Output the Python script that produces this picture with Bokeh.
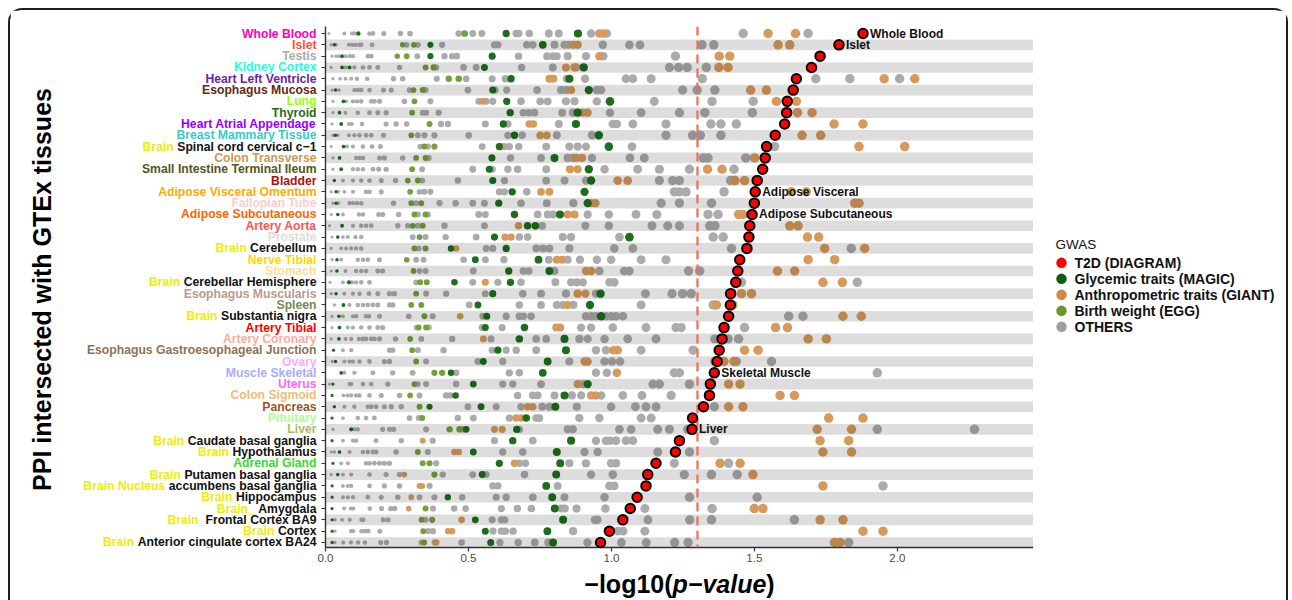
import math
from bokeh.plotting import figure
from bokeh.layouts import row, column
from bokeh.models import (ColumnDataSource, BoxAnnotation, Span, FixedTicker, NumeralTickFormatter, Range1d)
from bokeh.embed import file_html
from bokeh.resources import INLINE
from bokeh.core.properties import value

# ---------------- data ----------------
tissue_prefix = ["", "", "", "", "", "", "", "", "", "", "Brain ", "", "", "", "", "", "", "", "",
                 "Brain ", "", "", "Brain ", "", "", "Brain ", "", "", "", "", "", "", "", "", "", "",
                 "Brain ", "Brain ", "", "Brain ", "Brain Nucleus ", "Brain ", "Brain_ ", "Brain_", "Brain ", "Brain "]
tissue_name = ["Whole Blood", "Islet", "Testis", "Kidney Cortex", "Heart Left Ventricle", "Esophagus Mucosa",
               "Lung", "Thyroid", "Heart Atrial Appendage", "Breast Mammary Tissue", "Spinal cord cervical c\u22121",
               "Colon Transverse", "Small Intestine Terminal Ileum", "Bladder", "Adipose Visceral Omentum",
               "Fallopian Tube", "Adipose Subcutaneous", "Artery Aorta", "Prostate", "Cerebellum", "Nerve Tibial",
               "Stomach", "Cerebellar Hemisphere", "Esophagus Muscularis", "Spleen", "Substantia nigra",
               "Artery Tibial", "Artery Coronary", "Esophagus Gastroesophageal Junction", "Ovary", "Muscle Skeletal",
               "Uterus", "Colon Sigmoid", "Pancreas", "Pituitary", "Liver", "Caudate basal ganglia", "Hypothalamus",
               "Adrenal Gland", "Putamen basal ganglia", "accumbens basal ganglia", "Hippocampus", "Amygdala",
               "Frontal Cortex BA9", "Cortex", "Anterior cingulate cortex BA24"]
tissue_color = ["#FF00BB", "#FF5030", "#AAAAAA", "#22FFDD", "#6B1FA8", "#5C2E10", "#99FF00", "#1F6B1F",
                "#9900FF", "#33CCCC", "#111111", "#CC9955", "#555522", "#AA1111", "#FFAA00", "#FFCCCC",
                "#FF6600", "#FF5555", "#DDDDDD", "#111111", "#FFD700", "#FFDD99", "#111111", "#BB9988",
                "#778855", "#111111", "#FF0000", "#FFAA99", "#8B7355", "#FFAAFF", "#AAAAFF", "#FF66FF",
                "#EEBB77", "#995522", "#AAFF99", "#AABB66", "#111111", "#111111", "#33DD33", "#111111",
                "#111111", "#111111", "#111111", "#111111", "#111111", "#111111"]
brain_color = "#EEEE00"

t2d = [1.880, 1.796, 1.730, 1.700, 1.647, 1.636, 1.615, 1.613, 1.606, 1.573, 1.543, 1.538, 1.529, 1.510,
       1.503, 1.500, 1.492, 1.484, 1.481, 1.474, 1.449, 1.442, 1.435, 1.417, 1.416, 1.410, 1.394, 1.387,
       1.377, 1.370, 1.360, 1.346, 1.343, 1.322, 1.284, 1.282, 1.238, 1.224, 1.156, 1.127, 1.121, 1.090,
       1.066, 1.040, 0.993, 0.962]

others = [
    [0.012, 0.066, 0.093, 0.101, 0.154, 0.166, 0.204, 0.262, 0.296, 0.466, 0.515, 0.547, 0.667, 0.676, 0.713, 0.781, 0.816, 0.929, 0.984, 1.461, 1.688],
    [0.020, 0.037, 0.082, 0.093, 0.105, 0.119, 0.125, 0.163, 0.284, 0.323, 0.408, 0.591, 0.603, 0.704, 0.725, 0.801, 0.836, 0.851, 0.970, 1.063, 1.100, 1.317, 1.358],
    [0.023, 0.037, 0.047, 0.070, 0.084, 0.096, 0.148, 0.160, 0.321, 0.416, 0.443, 0.459, 0.675, 0.775, 0.795, 0.809, 0.847, 0.911, 0.972, 1.224],
    [0.020, 0.070, 0.101, 0.131, 0.154, 0.183, 0.259, 0.387, 0.483, 0.527, 0.686, 0.795, 0.876, 1.203, 1.235, 1.265, 1.332],
    [0.026, 0.051, 0.070, 0.090, 0.110, 0.146, 0.238, 0.270, 0.389, 0.492, 0.583, 0.629, 0.844, 0.908, 1.051, 1.075, 1.139, 1.318, 1.715, 1.834, 2.008],
    [0.023, 0.047, 0.101, 0.113, 0.125, 0.154, 0.203, 0.230, 0.294, 0.350, 0.498, 0.593, 0.634, 0.740, 0.824, 0.841, 0.949, 0.964, 1.249, 1.300, 1.362],
    [0.026, 0.072, 0.096, 0.110, 0.125, 0.160, 0.171, 0.189, 0.276, 0.367, 0.536, 0.562, 0.585, 0.684, 0.751, 0.777, 0.841, 0.871, 0.949, 1.150, 1.352, 1.496],
    [0.026, 0.070, 0.113, 0.154, 0.183, 0.212, 0.340, 0.352, 0.396, 0.692, 0.711, 0.731, 0.828, 0.865, 0.995, 1.104, 1.238, 1.327, 1.493],
    [0.023, 0.082, 0.092, 0.128, 0.212, 0.247, 0.284, 0.404, 0.428, 0.559, 0.638, 0.816, 1.005, 1.019, 1.075, 1.191, 1.348, 1.383, 1.437],
    [0.026, 0.043, 0.082, 0.101, 0.119, 0.142, 0.160, 0.203, 0.323, 0.346, 0.381, 0.501, 0.638, 0.688, 0.809, 0.932, 1.191, 1.284, 1.311, 1.383],
    [0.020, 0.075, 0.096, 0.131, 0.163, 0.192, 0.332, 0.358, 0.548, 0.626, 0.643, 0.676, 0.772, 0.853, 0.882, 0.911, 1.072, 1.571],
    [0.026, 0.107, 0.119, 0.131, 0.189, 0.206, 0.270, 0.361, 0.647, 0.754, 0.847, 0.865, 0.932, 1.065, 1.115, 1.321, 1.338, 1.470],
    [0.026, 0.096, 0.113, 0.131, 0.166, 0.186, 0.212, 0.338, 0.515, 0.583, 0.638, 0.672, 0.772, 0.976, 1.092, 1.168, 1.273, 1.429],
    [0.061, 0.096, 0.125, 0.154, 0.195, 0.245, 0.338, 0.463, 0.626, 0.772, 0.836, 0.911, 1.168, 1.214, 1.238, 1.417],
    [0.020, 0.045, 0.066, 0.096, 0.142, 0.154, 0.195, 0.329, 0.346, 0.367, 0.608, 0.626, 0.704, 1.220, 1.238, 1.261, 1.394],
    [0.026, 0.045, 0.084, 0.096, 0.110, 0.125, 0.238, 0.317, 0.399, 0.455, 0.515, 0.556, 0.684, 0.774, 0.867, 0.929, 1.174, 1.238, 1.350],
    [0.020, 0.061, 0.117, 0.131, 0.186, 0.200, 0.256, 0.323, 0.358, 0.536, 0.559, 0.742, 0.777, 0.795, 0.917, 0.991, 1.086, 1.159, 1.338, 1.373],
    [0.014, 0.096, 0.125, 0.142, 0.160, 0.253, 0.288, 0.323, 0.416, 0.556, 0.758, 0.909, 0.991, 1.142, 1.197, 1.238, 1.344, 1.362],
    [0.023, 0.061, 0.078, 0.105, 0.125, 0.305, 0.350, 0.420, 0.527, 0.678, 0.707, 0.830, 0.859, 1.028, 1.356, 1.391],
    [0.020, 0.055, 0.072, 0.090, 0.107, 0.125, 0.326, 0.562, 0.585, 0.737, 0.760, 0.783, 0.853, 1.010, 1.075, 1.420, 1.839],
    [0.023, 0.055, 0.113, 0.131, 0.148, 0.189, 0.317, 0.343, 0.483, 0.559, 0.624, 0.781, 0.847, 0.890, 0.949, 0.999, 1.104, 1.191],
    [0.020, 0.070, 0.107, 0.125, 0.142, 0.183, 0.200, 0.329, 0.350, 0.517, 0.692, 0.711, 0.801, 0.958, 1.045, 1.063, 1.270, 1.309],
    [0.016, 0.061, 0.093, 0.107, 0.125, 0.154, 0.317, 0.515, 0.603, 0.684, 0.804, 0.859, 0.879, 0.900, 0.993, 1.010, 1.455, 1.860],
    [0.020, 0.066, 0.096, 0.119, 0.152, 0.183, 0.224, 0.241, 0.352, 0.422, 0.559, 0.690, 0.754, 0.841, 0.946, 1.119, 1.212, 1.249, 1.279],
    [0.031, 0.084, 0.113, 0.131, 0.148, 0.166, 0.183, 0.224, 0.235, 0.503, 0.678, 0.754, 0.809, 0.830, 0.867, 1.104, 1.356],
    [0.023, 0.061, 0.096, 0.107, 0.142, 0.152, 0.189, 0.291, 0.375, 0.550, 0.632, 0.678, 0.692, 0.719, 0.911, 0.929, 0.946, 0.981, 0.999, 1.016, 1.040, 1.620, 1.670],
    [0.023, 0.078, 0.096, 0.125, 0.154, 0.183, 0.200, 0.319, 0.361, 0.548, 0.618, 0.894, 0.929, 1.005, 1.121, 1.226, 1.244, 1.466],
    [0.020, 0.070, 0.090, 0.117, 0.131, 0.142, 0.160, 0.171, 0.189, 0.245, 0.335, 0.443, 0.579, 0.737, 0.772, 0.888, 0.917, 0.976, 1.057, 1.156, 1.362, 1.408, 1.445],
    [0.061, 0.090, 0.224, 0.235, 0.323, 0.413, 0.583, 0.632, 0.667, 0.737, 0.946, 0.981, 1.104, 1.286],
    [0.023, 0.066, 0.084, 0.096, 0.119, 0.154, 0.206, 0.224, 0.352, 0.533, 0.620, 0.853, 0.976, 1.002, 1.030, 1.362, 1.437, 1.560],
    [0.066, 0.101, 0.166, 0.235, 0.305, 0.457, 0.643, 0.678, 0.946, 0.984, 1.220, 1.238, 1.930],
    [0.014, 0.084, 0.090, 0.131, 0.160, 0.218, 0.323, 0.352, 0.457, 0.620, 0.655, 0.754, 0.900, 1.145, 1.168, 1.273],
    [0.063, 0.078, 0.090, 0.107, 0.119, 0.154, 0.195, 0.259, 0.329, 0.422, 0.436, 0.672, 0.725, 0.742, 0.801, 0.862, 0.894, 0.964, 1.040, 1.107, 1.209],
    [0.066, 0.101, 0.148, 0.160, 0.177, 0.206, 0.230, 0.265, 0.498, 0.597, 0.684, 0.758, 0.783, 0.879, 0.999, 1.084, 1.121, 1.156, 1.360],
    [0.061, 0.113, 0.142, 0.171, 0.294, 0.326, 0.463, 0.517, 0.643, 0.737, 0.748, 0.888, 0.958, 1.104, 1.139],
    [0.026, 0.101, 0.113, 0.200, 0.224, 0.238, 0.352, 0.480, 0.678, 0.847, 0.865, 1.028, 1.069, 1.162, 1.203, 1.267, 1.930, 2.270],
    [0.061, 0.096, 0.107, 0.177, 0.265, 0.375, 0.591, 0.725, 0.946, 0.981, 0.995, 1.016, 1.051, 1.075, 1.360],
    [0.020, 0.031, 0.084, 0.131, 0.148, 0.166, 0.177, 0.247, 0.358, 0.620, 0.690, 0.906, 0.952, 1.162, 1.273],
    [0.055, 0.078, 0.142, 0.154, 0.171, 0.189, 0.206, 0.224, 0.387, 0.678, 0.699, 0.853, 0.911, 0.999, 1.016, 1.220, 1.410],
    [0.020, 0.061, 0.090, 0.154, 0.212, 0.259, 0.410, 0.515, 0.562, 0.696, 0.929, 1.005, 1.255, 1.350, 1.440],
    [0.061, 0.078, 0.090, 0.154, 0.206, 0.259, 0.364, 0.585, 0.603, 0.812, 0.993, 1.010, 1.950],
    [0.061, 0.078, 0.096, 0.148, 0.195, 0.253, 0.329, 0.381, 0.478, 0.597, 0.632, 0.725, 0.836, 0.976, 1.273, 1.510],
    [0.065, 0.089, 0.097, 0.155, 0.196, 0.228, 0.242, 0.376, 0.450, 0.490, 0.615, 0.671, 0.720, 0.825, 0.837, 0.878, 0.979, 1.117, 1.352],
    [0.033, 0.058, 0.085, 0.126, 0.132, 0.202, 0.219, 0.350, 0.583, 0.615, 0.627, 0.942, 0.951, 1.128, 1.274, 1.350, 1.640],
    [0.033, 0.089, 0.097, 0.126, 0.138, 0.149, 0.190, 0.359, 0.376, 0.586, 0.615, 0.629, 0.656, 0.866, 1.023, 1.041, 1.117],
    [0.033, 0.062, 0.089, 0.114, 0.138, 0.193, 0.213, 0.336, 0.382, 0.476, 0.610, 0.674, 0.732, 0.779, 0.916, 1.035, 1.122, 1.221, 1.268, 1.830],
]

glycemic = [
    [0.115, 0.632, 0.883], [0.031, 0.367, 0.760], [0.058, 0.367, 0.583], [0.058, 0.084, 0.556, 0.903],
    [0.649, 0.853], [0.035, 0.585, 0.921], [0.063, 0.634, 0.995], [0.049, 0.646, 0.882],
    [0.055, 0.622, 0.876], [0.035, 0.661, 0.956], [0.063, 0.608, 0.991], [0.049, 0.582, 0.801],
    [0.055, 0.573, 0.921], [0.031, 0.585, 0.929], [0.037, 0.653, 0.906], [0.037, 0.606, 0.917],
    [0.043, 0.661, 0.820], [0.058, 0.707, 0.734], [0.043, 0.591, 1.063], [0.439, 0.632],
    [0.040, 0.524, 0.745], [0.040, 0.641, 0.783], [0.082, 0.451, 0.647], [0.037, 0.585, 0.962],
    [0.063, 0.533, 0.925], [0.047, 0.564, 0.964], [0.049, 0.559, 0.696], [0.047, 0.678, 0.836],
    [0.028, 0.603, 0.841], [0.035, 0.552, 0.777], [0.055, 0.439, 0.760], [0.026, 0.517, 0.917],
    [0.023, 0.455, 0.836], [0.031, 0.364, 0.544, 0.804], [0.023, 0.702], [0.090, 0.492, 0.669],
    [0.023, 0.655, 0.859], [0.049, 0.517, 0.809], [0.026, 0.608, 0.821], [0.043, 0.548, 0.807],
    [0.023, 0.772], [0.023, 0.428, 0.793], [0.023, 0.802], [0.023, 0.524, 0.831],
    [0.023, 0.559, 0.776], [0.023, 0.578, 0.796],
]

anthropometric = [
    [0.958, 0.972, 1.548, 1.644], [0.867, 0.882, 1.583, 1.624], [0.958, 1.377, 1.414], [0.841, 0.871, 1.376, 1.408],
    [0.783, 0.797, 1.954, 2.061], [0.859, 1.487, 1.542], [0.550, 1.577, 1.647], [0.900, 0.917, 1.651, 1.702],
    [0.713, 0.727, 1.779, 1.880], [0.751, 0.774, 1.667, 1.732], [0.614, 1.866, 2.026], [0.876, 0.897, 1.501],
    [0.855, 0.882, 1.336, 1.387], [1.022, 1.057, 1.432, 1.466], [0.754, 0.783, 1.630, 1.682], [0.944, 1.851, 1.866],
    [0.847, 0.871, 1.445, 1.461], [0.675, 1.624, 1.653], [0.628, 0.649, 1.686, 1.725], [0.457, 1.746, 1.886],
    [0.809, 0.828, 1.688, 1.781], [0.911, 0.929, 1.581, 1.641], [0.559, 1.740, 1.808], [0.882, 0.909, 1.455, 1.490],
    [0.847, 1.367, 1.425], [0.471, 1.810, 1.874], [0.807, 0.821, 1.574, 1.616], [0.552, 1.688, 1.752],
    [1.007, 1.022, 1.466, 1.513], [0.906, 0.917, 1.394, 1.429], [1.019], [0.882, 1.410, 1.450],
    [0.929, 0.944, 1.590, 1.640], [0.707, 0.725, 1.410, 1.460], [0.667, 0.684, 1.760, 1.880], [0.591, 0.618, 1.720, 1.840],
    [0.340, 1.730, 1.830], [0.451, 0.466, 1.740, 1.840], [0.661, 1.380, 1.450], [0.276, 1.495],
    [0.329, 0.338, 1.740], [0.300], [0.291, 1.500, 1.530], [0.476, 1.730, 1.810],
    [0.429, 0.443, 1.880, 1.950], [0.388, 1.780, 1.800],
]

birth_weight = [
    [0.487], [0.270, 0.309], [0.251, 0.284], [0.350, 0.378], [0.431, 0.466], [0.308, 0.340], [0.311], [0.303],
    [0.364], [0.300], [0.346, 0.381], [0.317, 0.350], [0.303], [0.288, 0.323], [0.296], [0.300, 0.335],
    [0.311, 0.350], [0.305, 0.340], [0.329], [0.311, 0.350], [0.284], [0.308], [0.331, 0.354], [0.317],
    [0.300, 0.335], [0.346], [0.326, 0.352], [0.296], [0.303], [0.317], [0.381, 0.408], [0.311],
    [0.296], [0.329], [0.338], [0.434, 0.469], [], [0.323], [0.340, 0.364], [0.381],
    [], [], [0.350], [0.336, 0.373], [0.342], [0.345],
]

highlight_rows = [0, 1, 14, 16, 30, 35]
highlight_text = ["Whole Blood", "Islet", "Adipose Visceral", "Adipose Subcutaneous", "Skeletal Muscle", "Liver"]
gwas_labels = ["T2D (DIAGRAM)", "Glycemic traits (MAGIC)", "Anthropometric traits (GIANT)",
               "Birth weight (EGG)", "OTHERS"]
x_ticks = [0.0, 0.5, 1.0, 1.5, 2.0]
p_threshold = 0.05

# ---------------- styling ----------------
FONT = "Liberation Sans"
col_others, col_glyc, col_anthro, col_birth, col_t2d = "#ABABAB", "#1C6E1C", "#D89A5A", "#74A03A", "#FF0000"
leg_cols = ["#FF0000", "#0E5E0E", "#CD8A45", "#6A9630", "#A0A0A0"]

# Liberation Sans Bold advance widths (per 1000 em)
CW = {' ': 278, 'A': 722, 'B': 722, 'C': 722, 'H': 722, 'F': 611, 'N': 722, 'P': 667, 'S': 667, '_': 556,
      '1': 556, '2': 556, '4': 556, '9': 556, '0': 556, '\u2212': 584, '-': 333, '(': 333, ')': 333,
      'a': 556, 'b': 611, 'c': 556, 'd': 611, 'e': 556, 'f': 333, 'g': 611, 'h': 611, 'i': 278, 'j': 278,
      'k': 556, 'l': 278, 'm': 889, 'n': 611, 'o': 611, 'p': 611, 'q': 611, 'r': 389, 's': 556, 't': 333,
      'u': 611, 'v': 556, 'w': 778, 'x': 556, 'y': 556, 'z': 500}


def tw(s, size):
    return sum(CW.get(ch, 556) for ch in s) * size / 1000.0


n = len(tissue_name)
row_y = [n - i for i in range(n)]

# ---------------- geometry (pixels; page origin is the top-left corner) ----------------
OX, OY, BW = 8, 8, 2                   # outer margin and border width
LEFT_W, MAIN_BL, FRAME_W, RIGHT_W = 307, 8, 708, 253
BT, FRAME_H, BB = 16, 521, 20
TOP_H = BT + FRAME_H + BB
TITLE_H = 600 - OY - BW - TOP_H
ROW_PX = 11.31
PX_PER_UNIT = 285.9
TOP0 = OY + BW                          # page y of content top
LEFT0 = OX + BW                         # page x of content left
FRAME_TOP = TOP0 + BT
FRAME_LEFT = LEFT0 + LEFT_W + MAIN_BL

X0 = 0.0
X1 = X0 + FRAME_W / PX_PER_UNIT
Y1 = 46.62
Y0 = Y1 - FRAME_H / ROW_PX


def page_to_y(py):
    return Y1 - (py - FRAME_TOP) / ROW_PX


p = figure(width=MAIN_BL + FRAME_W, height=TOP_H, x_range=Range1d(X0, X1), y_range=Range1d(Y0, Y1),
           output_backend="svg", toolbar_location=None,
           min_border_left=MAIN_BL, min_border_right=0, min_border_top=BT, min_border_bottom=BB)
p.outline_line_color = None
p.xgrid.visible = False
p.ygrid.visible = False


def flat(rows):
    xs, ys, ss = [], [], []
    for i, vals in enumerate(rows):
        for v in vals:
            xs.append(v)
            ys.append(row_y[i])
            ss.append(2.3 + 6.3 * math.sqrt(min(v, 1.3)))
    return ColumnDataSource(dict(x=xs, y=ys, s=ss))


for rows, c in [(others, col_others), (anthropometric, col_anthro), (birth_weight, col_birth), (glycemic, col_glyc)]:
    p.scatter(x="x", y="y", size="s", source=flat(rows), marker="circle", fill_color=c, line_color=None)

# alternating grey bands (drawn over the points, as in the reference)
for i in range(n):
    if i % 2 == 1:
        p.add_layout(BoxAnnotation(bottom=row_y[i] - 0.47, top=row_y[i] + 0.47, fill_color="black",
                                   fill_alpha=0.135, line_color=None, line_alpha=0))

p.add_layout(Span(location=-math.log10(p_threshold), dimension="height", line_color="#F8695A",
                  line_dash="9 5", line_width=2.2))

p.scatter(x=t2d, y=row_y, size=9.5, marker="circle", fill_color=col_t2d, line_color="black",
          line_width=2, level="overlay")

p.text(x=[t2d[i] for i in highlight_rows], y=[row_y[i] for i in highlight_rows], text=highlight_text,
       x_offset=7, text_baseline="middle", text_align="left", text_font=value(FONT),
       text_font_style="bold", text_font_size="12px", text_color="#111111", level="overlay")

# axes
p.xaxis.ticker = FixedTicker(ticks=x_ticks)
p.xaxis.formatter = NumeralTickFormatter(format="0.0")
p.xaxis.major_label_text_font = FONT
p.xaxis.major_label_text_font_size = "11.5px"
p.xaxis.major_label_text_color = "#4D4D4D"
p.xaxis.major_label_standoff = 2
p.yaxis.ticker = FixedTicker(ticks=row_y)
p.yaxis.major_label_text_font_size = "1px"
p.yaxis.major_label_text_color = None
p.yaxis.major_label_standoff = 0
for ax in (p.xaxis, p.yaxis):
    ax.axis_line_color = "#333333"
    ax.axis_line_width = 1.4
    ax.major_tick_line_color = "#333333"
    ax.major_tick_line_width = 1.2
    ax.major_tick_out = 4
    ax.major_tick_in = 0
    ax.minor_tick_line_color = None

# ---------------- left panel: tissue labels + y title ----------------
LS = 12.2
LAB_X = LEFT_W - 1
pl = figure(width=LEFT_W, height=TOP_H, x_range=Range1d(0, LEFT_W), y_range=p.y_range,
            output_backend="svg", toolbar_location=None, x_axis_location=None, y_axis_location=None,
            min_border_left=0, min_border_right=0, min_border_top=BT, min_border_bottom=BB)
pl.outline_line_color = None
pl.grid.visible = False
pl.text(x=[LAB_X] * n, y=row_y, text=tissue_name, text_color=tissue_color, text_align="right",
        text_baseline="middle", text_font=value(FONT), text_font_style="bold", text_font_size=f"{LS}px")
bx, by, bt = [], [], []
for i in range(n):
    pre = tissue_prefix[i]
    if pre:
        gap = tw(pre, LS) - tw(pre.rstrip(), LS)
        bx.append(LAB_X - tw(tissue_name[i], LS) - gap)
        by.append(row_y[i])
        bt.append(pre.rstrip())
pl.text(x=bx, y=by, text=bt, text_color=brain_color, text_align="right", text_baseline="middle",
        text_font=value(FONT), text_font_style="bold", text_font_size=f"{LS}px")
pl.text(x=[41 - LEFT0], y=[page_to_y(289)], text=["PPI intersected with GTEx tissues"], angle=math.pi / 2,
        text_align="center", text_baseline="middle", text_font=value(FONT), text_font_style="bold",
        text_font_size="25px", text_color="black")

# ---------------- right panel: legend ----------------
RIGHT0 = FRAME_LEFT + FRAME_W
pr = figure(width=RIGHT_W, height=TOP_H, x_range=Range1d(0, RIGHT_W), y_range=Range1d(0, TOP_H),
            output_backend="svg", toolbar_location=None, x_axis_location=None, y_axis_location=None,
            min_border=0)
pr.outline_line_color = None
pr.grid.visible = False
LEG_TOP, LEG_DY = 262.7, 17.1


def py_r(py):
    return TOP0 + TOP_H - py


leg_y = [py_r(LEG_TOP + k * LEG_DY) for k in range(len(gwas_labels))]
pr.scatter(x=[1061 - RIGHT0] * len(gwas_labels), y=leg_y, size=10.5, marker="circle",
           fill_color=leg_cols, line_color=None)
pr.text(x=[1074 - RIGHT0] * len(gwas_labels), y=leg_y, text=gwas_labels, text_align="left",
        text_baseline="middle", text_font=value(FONT), text_font_size="14px", text_font_style="bold",
        text_color="#111111")
pr.text(x=[1055 - RIGHT0], y=[py_r(243)], text=["GWAS"], text_align="left", text_baseline="middle",
        text_font=value(FONT), text_font_size="13.5px", text_color="#111111")

# ---------------- bottom: x title with italic p-value ----------------
TOTAL_W = LEFT_W + MAIN_BL + FRAME_W + RIGHT_W
pt = figure(width=TOTAL_W, height=TITLE_H, x_range=Range1d(0, TOTAL_W), y_range=Range1d(0, TITLE_H),
            output_backend="svg", toolbar_location=None, x_axis_location=None, y_axis_location=None,
            min_border=0)
pt.outline_line_color = None
pt.grid.visible = False
TS = 25
TITLE_MID = 583
parts = [("\u2212log10(", "bold"), ("p\u2212value", "bold italic"), (")", "bold")]
total = sum(tw(t, TS) for t, _ in parts)
acc = (FRAME_LEFT + FRAME_W / 2 - LEFT0) - total / 2
for t, st in parts:
    pt.text(x=[acc], y=[600 - TITLE_MID], text=[t], text_align="left", text_baseline="middle",
            text_font=value(FONT), text_font_size=f"{TS}px", text_font_style=st, text_color="black")
    acc += tw(t, TS)

layout = column(row(pl, p, pr), pt,
                styles={"margin-left": f"{OX}px", "margin-top": f"{OY}px",
                        "border-top": f"{BW}px solid #1e1e1e", "border-left": f"{BW}px solid #1e1e1e",
                        "border-right": f"{BW}px solid #1e1e1e", "border-radius": "14px 14px 0 0"})

open("out.html", "w").write(file_html(layout, INLINE))
